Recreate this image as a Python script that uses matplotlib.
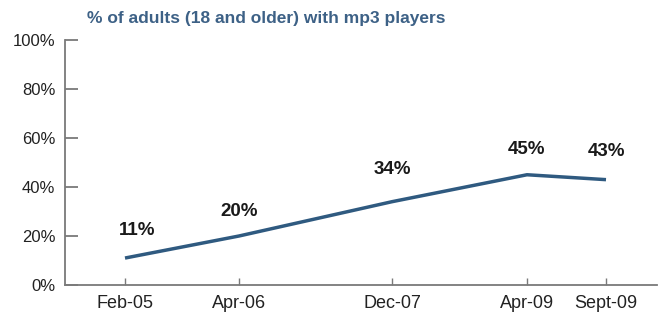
import matplotlib.pyplot as plt
from matplotlib.ticker import PercentFormatter

plt.rcParams['font.family'] = ['Liberation Sans', 'DejaVu Sans']

# datos del grafico
fechas = ['Feb-05', 'Apr-06', 'Dec-07', 'Apr-09', 'Sept-09']
x_pos = [60, 174, 327, 462, 541]   # posicion de cada fecha sobre el eje (no es proporcional al tiempo)
valores = [11, 20, 34, 45, 43]
etiquetas = ['11%', '20%', '34%', '45%', '43%']
titulo = '% of adults (18 and older) with mp3 players'

azul = '#2f5a80'
gris = '#7a7a7a'

fig = plt.figure(figsize=(6.62, 3.18), dpi=100)
ax = fig.add_axes([65/662, 1 - 285/318, (657 - 65)/662, (285 - 40)/318])

ax.plot(x_pos, valores, color=azul, lw=2.5, solid_capstyle='butt')

# desplazamientos de las etiquetas en puntos
dx = [9, 0, 0, 0, 0]
dy = [20, 18, 23, 18, 20]
for x, v, t, ox, oy in zip(x_pos, valores, etiquetas, dx, dy):
    ax.annotate(t, (x, v), xytext=(ox, oy), textcoords='offset points',
                ha='center', va='center', fontsize=13.5, fontweight='bold', color='#1a1a1a')

ax.set_xlim(0, 592)
ax.set_ylim(0, 100)
ax.set_yticks([0, 20, 40, 60, 80, 100])
ax.yaxis.set_major_formatter(PercentFormatter(decimals=0))
ax.set_xticks(x_pos)
ax.set_xticklabels(fechas)

for s in ['top', 'right']:
    ax.spines[s].set_visible(False)
for s in ['left', 'bottom']:
    ax.spines[s].set_color(gris)
    ax.spines[s].set_linewidth(1.3)

ax.tick_params(axis='y', direction='in', length=9, width=1.3, color=gris,
               pad=7, labelsize=12, labelcolor='#222222')
ax.tick_params(axis='x', direction='in', length=5, width=1, color=gris,
               pad=7, labelsize=13, labelcolor='#222222')

fig.text(266/662, 1 - 18/318, titulo, ha='center', va='center',
         fontsize=12.5, fontweight='bold', color='#3d6186')

fig.savefig('out.png', dpi=100)
